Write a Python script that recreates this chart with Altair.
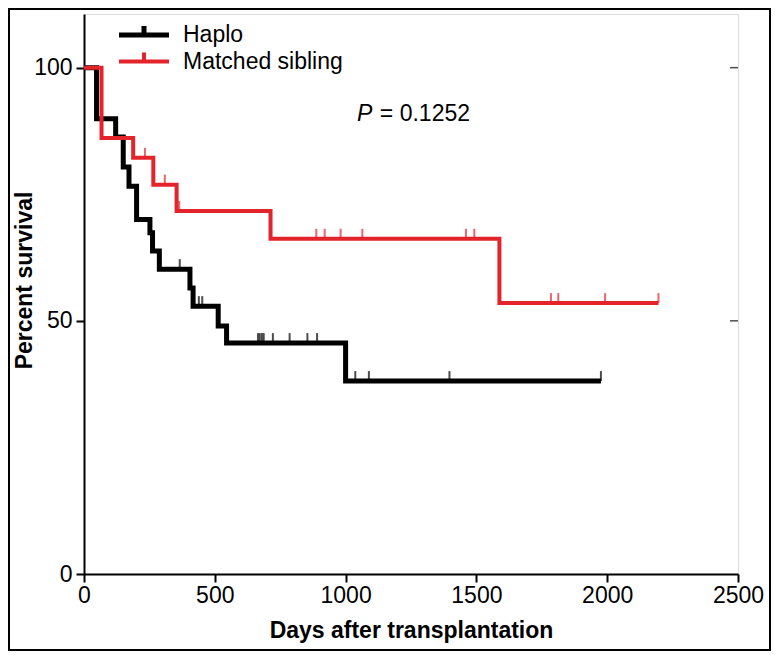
import altair as alt
import pandas as pd

# ---- data ----
groups = ["Haplo", "Matched sibling"]
colors = ["#000000", "#e3242b"]

haplo_days = [0, 48, 121, 150, 172, 201, 252, 262, 288, 405, 417, 513, 545, 1000, 1976]
haplo_pct = [100, 89.9, 86.3, 80.4, 76.6, 70.0, 67.4, 63.8, 60.2, 56.5, 52.9, 49.0, 45.6, 38.1, 38.1]
haplo_censor = [366, 439, 452, 665, 672, 680, 687, 722, 786, 854, 891, 1037, 1089, 1397, 1976]

sib_days = [0, 67, 188, 265, 354, 713, 1588, 2196]
sib_pct = [100, 86.1, 82.2, 76.9, 71.7, 66.2, 53.5, 53.5]
sib_censor = [233, 309, 364, 888, 920, 981, 1064, 1460, 1492, 1785, 1813, 1992, 2196]

x_ticks = [0, 500, 1000, 1500, 2000, 2500]
y_ticks = [0, 50, 100]
p_label = "= 0.1252"

FONT = "Liberation Sans"


def step_value(days, pct, d):
    v = pct[0]
    for dd, pp in zip(days, pct):
        if dd <= d:
            v = pp
    return v


rows = []
for g, ds, ps in [(groups[0], haplo_days, haplo_pct), (groups[1], sib_days, sib_pct)]:
    for d, p in zip(ds, ps):
        rows.append({"group": g, "day": d, "pct": p})
curves = pd.DataFrame(rows)

crows = []
for g, ds, ps, cs in [(groups[0], haplo_days, haplo_pct, haplo_censor),
                      (groups[1], sib_days, sib_pct, sib_censor)]:
    for c in cs:
        crows.append({"group": g, "day": c, "pct": step_value(ds, ps, c)})
censor = pd.DataFrame(crows)

xscale = alt.Scale(domain=[0, 2500], nice=False, zero=False)
yscale = alt.Scale(domain=[0, 110.6], nice=False, zero=False)
cscale = alt.Scale(domain=groups, range=colors)

legend = alt.Legend(
    title=None,
    orient="none",
    legendX=45,
    legendY=6,
    symbolType="M-2,0H2M0,0V-0.72",
    symbolSize=625,
    symbolStrokeWidth=4,
    symbolFillColor="transparent",
    labelFontSize=23,
    labelFont=FONT,
    labelColor="black",
    labelOffset=24,
    rowPadding=-4,
)

xaxis = alt.Axis(
    values=x_ticks, format="d", title="Days after transplantation", labelFontSize=23,
    titleFontSize=23, titleFont=FONT, labelFont=FONT, titleFontWeight="bold",
    labelColor="black", titleColor="black", domainColor="black", tickColor="black",
    domainWidth=2, tickWidth=2, tickSize=8, labelPadding=2, titlePadding=12,
    grid=False, labelFlush=False,
)
yaxis = alt.Axis(
    values=y_ticks, format="d", title="Percent survival", labelFontSize=23,
    titleFontSize=23, titleFont=FONT, labelFont=FONT, titleFontWeight="bold",
    labelColor="black", titleColor="black", domainColor="black", tickColor="black",
    domainWidth=2, tickWidth=2, tickSize=8, labelPadding=4,
    titleX=-60, titleY=266, titleAngle=270, titleBaseline="middle", titleAlign="center",
    grid=False, labelFlush=False,
)

lines = alt.Chart(curves).mark_line(interpolate="step-after").encode(
    x=alt.X("day:Q", scale=xscale, axis=xaxis),
    y=alt.Y("pct:Q", scale=yscale, axis=yaxis),
    color=alt.Color("group:N", scale=cscale, legend=legend),
    strokeWidth=alt.StrokeWidth("group:N", scale=alt.Scale(domain=groups, range=[5, 4]), legend=None),
)

ticks = alt.Chart(censor).mark_tick(orient="vertical", size=10, thickness=2, yOffset=-5).encode(
    x=alt.X("day:Q", scale=xscale),
    y=alt.Y("pct:Q", scale=yscale),
    color=alt.Color("group:N", scale=cscale, legend=None),
)

right_ticks = alt.Chart(pd.DataFrame({"day": [2500, 2500], "pct": [50, 100]})).mark_tick(
    orient="horizontal", size=8, thickness=1.5, xOffset=-4, color="black"
).encode(
    x=alt.X("day:Q", scale=xscale),
    y=alt.Y("pct:Q", scale=yscale),
)

ptext = alt.Chart(pd.DataFrame({"day": [1044], "pct": [90.8], "t": ["P"]})).mark_text(
    align="left", baseline="middle", fontSize=23, font=FONT, fontStyle="italic", color="black"
).encode(x=alt.X("day:Q", scale=xscale), y=alt.Y("pct:Q", scale=yscale), text="t:N")

vtext = alt.Chart(pd.DataFrame({"day": [1131], "pct": [90.8], "t": [p_label]})).mark_text(
    align="left", baseline="middle", fontSize=23, font=FONT, color="black"
).encode(x=alt.X("day:Q", scale=xscale), y=alt.Y("pct:Q", scale=yscale), text="t:N")

frame = alt.Chart(pd.DataFrame({"a": [0]})).mark_rect(
    fill="transparent", stroke="black", strokeWidth=2
).encode(x=alt.value(-75), x2=alt.value(686), y=alt.value(-5), y2=alt.value(636))

chart = alt.layer(frame, lines, ticks, right_ticks, ptext, vtext).properties(
    width=654, height=560,
    autosize=alt.AutoSizeParams(type="none"),
    padding={"left": 76, "top": 6, "right": 33, "bottom": 77},
).configure_view(stroke="black", strokeWidth=1.5).configure(background="white")

chart.save("out.html", embed_options={"renderer": "svg", "actions": False})
